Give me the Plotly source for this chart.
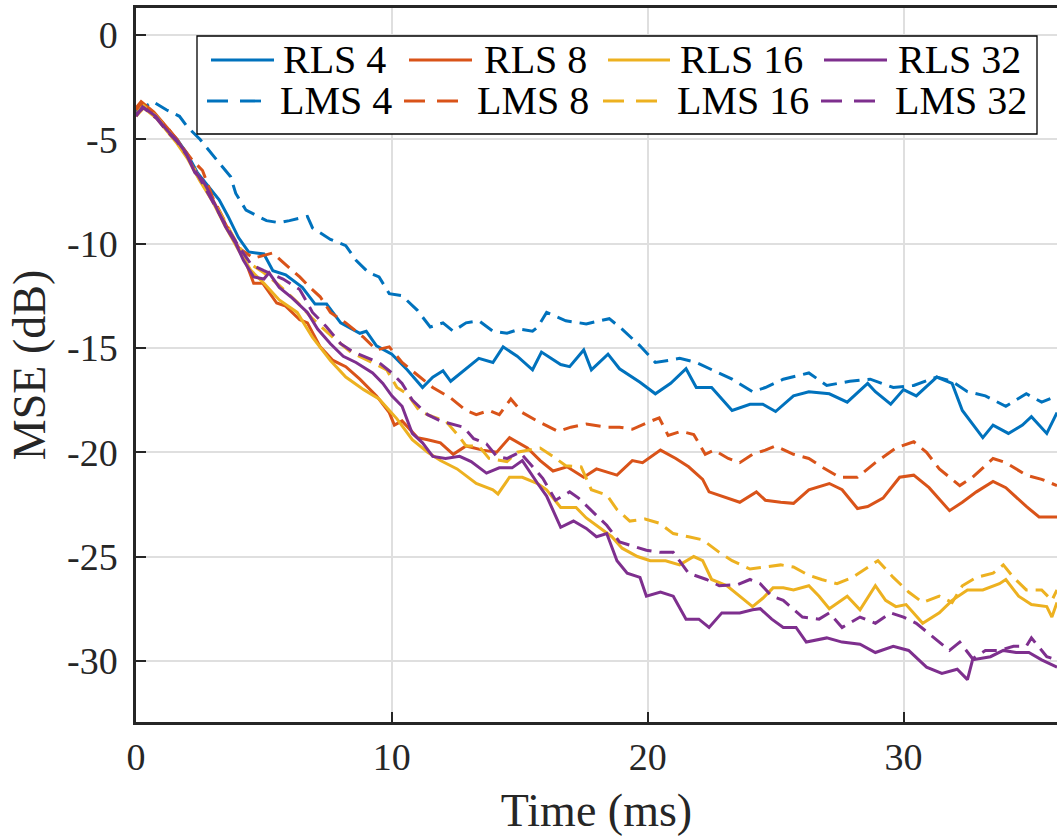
import plotly.graph_objects as go

# ---------------- data ----------------
t_rls4 = [0, 0.3, 0.8, 1.2, 1.6, 2.0, 2.4, 2.8, 3.25, 3.6, 4.0, 4.4, 5.0, 5.35, 5.85, 6.5, 7.0, 7.45, 8.0, 8.75, 9.0, 9.4, 10.0, 10.6, 11.2, 11.6, 12.0, 12.3, 12.8, 13.4, 13.95, 14.35, 14.9, 15.5, 15.85, 16.6, 16.95, 17.5, 17.8, 18.45, 18.9, 19.7, 20.3, 20.9, 21.5, 21.9, 22.5, 23.3, 24.0, 24.5, 25.0, 25.7, 26.3, 27.1, 27.8, 28.6, 28.9, 29.5, 30.0, 30.5, 31.3, 31.9, 32.3, 33.1, 33.5, 34.1, 34.65, 35.0, 35.6, 36.0]
v_rls4 = [-3.8, -3.4, -3.9, -4.5, -5.0, -5.7, -6.6, -7.2, -7.9, -8.7, -9.7, -10.4, -10.5, -11.3, -11.5, -12.1, -12.9, -12.9, -13.8, -14.3, -14.2, -14.9, -15.3, -16.05, -16.9, -16.4, -16.1, -16.6, -16.1, -15.5, -15.7, -14.95, -15.4, -16.05, -15.2, -15.8, -15.9, -15.1, -16.05, -15.3, -16.0, -16.65, -17.2, -16.7, -16.0, -16.9, -16.9, -18.0, -17.7, -17.7, -18.05, -17.3, -17.1, -17.2, -17.6, -16.7, -17.1, -17.7, -17.0, -17.3, -16.4, -16.7, -18.0, -19.3, -18.7, -19.1, -18.7, -18.3, -19.1, -18.1]

t_lms4 = [0, 0.66, 1.2, 1.7, 2.0, 2.5, 3.16, 3.7, 3.9, 4.3, 5.1, 5.6, 6.0, 6.7, 6.9, 7.6, 8.2, 8.6, 9.1, 9.5, 9.9, 10.4, 11.0, 11.5, 12.0, 12.4, 12.9, 13.4, 13.95, 14.5, 15.0, 15.5, 15.7, 16.05, 16.8, 17.6, 18.5, 19.0, 19.7, 20.3, 20.8, 21.25, 21.9, 22.5, 23.3, 24.1, 24.6, 25.3, 26.3, 27.0, 27.9, 28.7, 29.6, 30.4, 31.3, 31.9, 32.5, 33.2, 34.0, 34.8, 35.4, 36.0]
v_lms4 = [-3.7, -3.2, -3.6, -3.9, -4.4, -5.0, -6.0, -6.8, -7.6, -8.4, -8.9, -9.0, -8.9, -8.7, -9.25, -9.8, -10.1, -10.8, -11.4, -11.6, -12.4, -12.5, -13.2, -14.0, -13.8, -14.2, -13.8, -13.7, -14.2, -14.3, -14.1, -14.2, -14.0, -13.3, -13.7, -13.85, -13.6, -14.1, -14.9, -15.7, -15.6, -15.5, -15.7, -16.05, -16.5, -17.1, -16.9, -16.5, -16.2, -16.8, -16.6, -16.5, -16.9, -16.8, -16.4, -16.6, -17.1, -17.3, -17.8, -17.2, -17.6, -17.3]

t_rls8 = [0, 0.2, 0.7, 1.2, 1.6, 1.95, 2.5, 3.0, 3.6, 4.2, 4.6, 4.95, 5.5, 5.85, 6.4, 6.7, 7.2, 7.7, 8.2, 8.75, 9.4, 9.9, 10.1, 10.4, 11.0, 11.4, 11.9, 12.4, 12.9, 13.55, 14.1, 14.6, 15.3, 15.8, 16.3, 16.85, 17.5, 18.0, 18.8, 19.4, 19.8, 20.5, 21.1, 21.6, 22.15, 22.4, 23.1, 23.6, 24.25, 24.6, 25.2, 25.7, 26.3, 27.1, 27.6, 28.2, 28.6, 29.2, 29.85, 30.4, 31.0, 31.8, 32.3, 32.85, 33.5, 34.0, 34.8, 35.3, 36.0]
v_rls8 = [-3.5, -3.2, -3.7, -4.4, -5.0, -5.7, -6.95, -7.9, -9.3, -10.6, -11.9, -11.9, -12.85, -13.0, -13.65, -13.8, -14.95, -15.6, -15.9, -16.5, -17.3, -18.1, -18.7, -18.5, -19.3, -19.4, -19.55, -20.1, -19.7, -19.9, -20.0, -19.3, -19.8, -20.4, -20.9, -20.7, -21.2, -20.8, -21.1, -20.4, -20.5, -19.9, -20.3, -20.7, -21.3, -21.9, -22.2, -22.4, -21.9, -22.3, -22.4, -22.45, -21.8, -21.5, -21.8, -22.7, -22.6, -22.2, -21.2, -21.1, -21.7, -22.8, -22.4, -21.9, -21.4, -21.7, -22.6, -23.1, -23.1]

t_lms8 = [0, 0.2, 0.7, 1.2, 1.7, 2.2, 2.6, 3.0, 3.5, 4.0, 4.6, 5.35, 5.75, 6.4, 6.8, 7.2, 7.6, 8.2, 8.9, 9.4, 9.9, 10.4, 11.0, 11.6, 12.3, 12.9, 13.3, 13.8, 14.2, 14.65, 15.1, 15.75, 16.5, 17.0, 17.6, 18.4, 18.9, 19.4, 19.95, 20.45, 20.8, 21.3, 21.8, 22.0, 22.25, 22.6, 23.15, 23.6, 24.1, 24.6, 25.0, 25.7, 26.3, 26.8, 27.5, 28.2, 28.9, 29.7, 30.4, 30.9, 31.4, 32.2, 32.7, 33.5, 34.0, 34.8, 35.4, 36.0]
v_lms8 = [-3.6, -3.3, -3.8, -4.4, -5.2, -6.0, -6.5, -7.8, -9.0, -10.2, -10.7, -10.45, -10.9, -11.6, -12.1, -12.55, -13.3, -13.8, -14.5, -15.1, -14.95, -15.7, -16.3, -16.9, -17.4, -18.0, -18.2, -18.0, -18.2, -17.45, -18.1, -18.55, -19.0, -18.8, -18.65, -18.8, -18.8, -18.9, -18.6, -18.35, -19.2, -19.0, -19.15, -19.55, -20.1, -19.9, -20.3, -20.5, -20.1, -19.9, -19.7, -20.1, -20.3, -20.7, -21.2, -21.2, -20.5, -19.8, -19.5, -20.0, -20.8, -21.6, -21.2, -20.3, -20.5, -21.1, -21.3, -21.6]

t_rls16 = [0, 0.3, 0.8, 1.2, 1.6, 2.0, 2.5, 3.0, 3.5, 4.0, 4.5, 5.0, 5.6, 6.3, 6.9, 7.6, 8.2, 8.9, 9.5, 10.2, 10.8, 11.4, 11.9, 12.55, 13.3, 13.95, 14.15, 14.6, 15.1, 15.7, 16.05, 16.6, 17.2, 17.6, 18.1, 18.6, 19.0, 19.6, 20.1, 20.7, 21.25, 21.8, 22.15, 22.5, 23.1, 23.6, 24.1, 24.5, 24.9, 25.3, 25.7, 26.3, 26.7, 27.1, 27.8, 28.3, 28.9, 29.3, 29.7, 30.1, 30.75, 31.4, 31.9, 32.5, 33.1, 33.75, 34.0, 34.5, 35.0, 35.6, 35.8, 36.0]
v_rls16 = [-3.9, -3.5, -4.0, -4.6, -5.2, -5.9, -7.0, -8.0, -9.2, -10.3, -11.3, -11.9, -12.7, -13.3, -14.5, -15.6, -16.4, -17.0, -17.45, -18.4, -19.4, -20.0, -20.4, -20.8, -21.5, -21.8, -22.0, -21.2, -21.2, -21.5, -21.8, -22.65, -22.65, -23.15, -23.6, -24.05, -24.6, -25.0, -25.2, -25.2, -25.4, -25.0, -25.2, -26.1, -26.4, -26.9, -27.4, -27.0, -26.5, -26.5, -26.6, -26.4, -26.9, -27.5, -26.9, -27.55, -26.4, -27.1, -27.4, -27.3, -28.2, -27.7, -27.1, -26.6, -26.6, -26.3, -26.1, -26.9, -27.3, -27.4, -27.9, -27.2]

t_lms16 = [0, 0.3, 0.8, 1.2, 1.6, 2.0, 2.5, 3.0, 3.5, 4.0, 4.5, 5.0, 5.6, 6.3, 6.9, 7.7, 8.4, 9.25, 9.8, 10.2, 10.6, 11.1, 11.6, 12.1, 12.6, 12.9, 13.4, 13.8, 14.5, 14.9, 15.8, 16.3, 16.8, 17.4, 17.8, 18.4, 18.8, 19.3, 19.9, 20.45, 21.0, 21.6, 22.15, 22.8, 23.3, 24.0, 24.6, 25.2, 25.7, 26.3, 26.8, 27.4, 28.0, 28.6, 29.0, 29.6, 30.2, 30.75, 31.4, 31.9, 32.3, 32.85, 33.5, 33.9, 34.3, 34.8, 35.4, 35.8, 36.0]
v_lms16 = [-3.8, -3.4, -3.9, -4.5, -5.1, -5.8, -6.9, -7.9, -9.0, -10.1, -11.0, -11.4, -12.0, -12.8, -13.6, -14.5, -15.2, -15.7, -16.05, -16.9, -17.2, -18.05, -18.3, -18.5, -19.2, -19.7, -19.7, -20.3, -20.45, -20.0, -19.8, -20.2, -20.65, -20.7, -21.8, -22.05, -22.75, -23.3, -23.2, -23.4, -23.9, -24.05, -24.2, -24.8, -25.2, -25.6, -25.5, -25.4, -25.5, -25.9, -26.1, -26.3, -26.0, -25.5, -25.2, -26.0, -26.7, -27.2, -26.9, -27.2, -26.4, -26.0, -25.8, -25.4, -26.0, -26.6, -26.6, -27.1, -26.6]

t_rls32 = [0, 0.26, 0.78, 1.2, 1.56, 1.95, 2.3, 2.6, 2.8, 3.1, 3.5, 3.9, 4.2, 4.6, 5.0, 5.2, 5.6, 6.1, 6.7, 7.1, 7.6, 8.1, 8.6, 9.25, 9.65, 10.0, 10.4, 10.8, 11.2, 11.6, 12.1, 12.65, 13.1, 13.7, 14.2, 14.7, 15.1, 15.7, 16.05, 16.6, 17.1, 17.6, 18.0, 18.4, 18.8, 19.2, 19.7, 19.95, 20.5, 21.0, 21.5, 22.0, 22.4, 22.9, 23.6, 24.1, 24.4, 24.85, 25.3, 25.8, 26.2, 27.0, 27.6, 28.3, 28.9, 29.6, 30.2, 30.9, 31.5, 32.1, 32.5, 32.7, 33.4, 33.9, 34.4, 34.9, 35.4, 36.0]
v_rls32 = [-3.9, -3.45, -3.9, -4.55, -5.0, -5.65, -6.6, -6.95, -7.4, -8.2, -9.2, -10.0, -10.8, -11.6, -11.7, -11.4, -12.1, -12.6, -13.3, -14.1, -14.8, -15.4, -15.7, -16.2, -16.7, -17.3, -17.8, -19.1, -19.55, -20.2, -20.3, -20.2, -20.45, -21.0, -20.75, -20.75, -20.4, -21.5, -22.1, -23.6, -23.3, -23.65, -24.05, -23.9, -25.2, -25.8, -26.0, -26.9, -26.7, -26.9, -28.0, -28.0, -28.4, -27.7, -27.7, -27.55, -27.5, -28.0, -28.4, -28.4, -29.1, -28.9, -29.1, -29.2, -29.6, -29.3, -29.5, -30.3, -30.6, -30.4, -30.9, -29.95, -29.8, -29.5, -29.6, -29.6, -29.95, -30.3]

t_lms32 = [0, 0.3, 0.8, 1.2, 1.6, 2.0, 2.5, 3.0, 3.5, 4.0, 4.5, 5.0, 5.75, 6.4, 6.9, 7.45, 8.0, 8.5, 9.1, 9.5, 10.0, 10.4, 10.8, 11.4, 11.9, 12.4, 12.8, 13.2, 13.7, 14.1, 14.5, 15.0, 15.45, 15.9, 16.4, 16.95, 17.3, 17.85, 18.4, 18.9, 19.4, 19.95, 20.5, 21.0, 21.6, 22.3, 22.8, 23.5, 24.0, 24.4, 24.85, 25.3, 26.05, 26.7, 27.1, 27.6, 28.3, 28.9, 29.5, 30.0, 30.5, 31.1, 31.8, 32.2, 32.7, 33.2, 33.75, 34.3, 34.8, 35.0, 35.6, 36.0]
v_lms32 = [-3.8, -3.5, -4.0, -4.6, -5.1, -5.8, -6.9, -8.0, -9.1, -10.1, -11.0, -11.3, -11.7, -12.2, -13.3, -14.0, -14.8, -15.2, -15.5, -15.7, -16.2, -16.7, -17.5, -18.2, -18.5, -18.65, -18.8, -19.35, -19.6, -20.2, -20.3, -20.0, -20.6, -21.25, -22.3, -21.9, -22.2, -22.85, -23.5, -24.3, -24.5, -24.7, -24.8, -24.8, -25.8, -26.1, -26.4, -26.35, -26.1, -26.3, -26.9, -27.1, -27.9, -28.0, -27.7, -28.4, -27.9, -28.2, -27.7, -27.9, -28.2, -28.8, -29.5, -29.1, -29.9, -29.5, -29.5, -29.3, -29.3, -28.9, -29.8, -29.95]

x_ticks = [0, 10, 20, 30]
y_ticks = [0, -5, -10, -15, -20, -25, -30]
y_tick_labels = ["0", "-5", "-10", "-15", "-20", "-25", "-30"]

series = [
    ("RLS 4", t_rls4, v_rls4, "#0072BD", "solid"),
    ("RLS 8", t_rls8, v_rls8, "#D95319", "solid"),
    ("RLS 16", t_rls16, v_rls16, "#EDB120", "solid"),
    ("RLS 32", t_rls32, v_rls32, "#7E2F8E", "solid"),
    ("LMS 4", t_lms4, v_lms4, "#0072BD", "dash"),
    ("LMS 8", t_lms8, v_lms8, "#D95319", "dash"),
    ("LMS 16", t_lms16, v_lms16, "#EDB120", "dash"),
    ("LMS 32", t_lms32, v_lms32, "#7E2F8E", "dash"),
]

# ---------------- figure ----------------
W, H = 1057, 837
L, R, T, B = 136, 0, 8, 837 - 722
FONT = "Liberation Serif"

fig = go.Figure()
draw_order = [4, 0, 5, 1, 6, 2, 7, 3]
for i in draw_order:
    name, t, v, col, dash = series[i]
    fig.add_trace(go.Scatter(
        x=t, y=v, mode="lines", name=name, showlegend=False,
        line=dict(color=col, width=3,
                  dash="solid" if dash == "solid" else "15px,8px"),
    ))

axis_col = "#262626"
fig.update_layout(
    width=W, height=H,
    margin=dict(l=L, r=R, t=T, b=B, autoexpand=False),
    paper_bgcolor="white", plot_bgcolor="white",
    font=dict(family=FONT, color=axis_col, size=38),
    xaxis=dict(
        range=[0, 36], tickvals=x_ticks, ticktext=[str(v) for v in x_ticks],
        showgrid=True, gridcolor="#dfdfdf", gridwidth=2,
        zeroline=False, showline=True, linecolor=axis_col, linewidth=2.5,
        mirror=True, ticks="inside", ticklen=10, tickwidth=2, tickcolor=axis_col,
        tickfont=dict(family=FONT, size=38, color=axis_col),
        ticklabelstandoff=0,
        title=dict(text="Time (ms)", font=dict(family=FONT, size=46, color=axis_col), standoff=17),
    ),
    yaxis=dict(
        range=[-32.93, 1.29], tickvals=y_ticks, ticktext=y_tick_labels,
        showgrid=True, gridcolor="#dfdfdf", gridwidth=2,
        zeroline=False, showline=True, linecolor=axis_col, linewidth=2.5,
        ticks="inside", ticklen=10, tickwidth=2, tickcolor=axis_col,
        tickfont=dict(family=FONT, size=38, color=axis_col),
        ticklabelstandoff=8,
        title=dict(text="MSE (dB)", font=dict(family=FONT, size=46, color=axis_col), standoff=7),
    ),
    showlegend=False,
)

# ---------------- legend (drawn as box + samples + text) ----------------
pw, ph = W - L - R, H - T - B
def px(x):
    return (x - L) / pw
def py(y):
    return (H - B - y) / ph

fig.add_shape(type="rect", xref="paper", yref="paper",
              x0=px(197), x1=px(1037), y0=py(134), y1=py(36),
              line=dict(color="#000000", width=1.3), fillcolor="white", layer="above")

legend_pos = {
    "RLS 4": (211, 274, 281, 60), "RLS 8": (409, 472, 482, 60),
    "RLS 16": (608, 670, 678, 60), "RLS 32": (824, 887, 896, 60),
    "LMS 4": (207, 262, 278, 101), "LMS 8": (404, 460, 475, 101),
    "LMS 16": (603, 658, 675, 101), "LMS 32": (821, 877, 893, 101),
}
for name, t, v, col, dash in series:
    x0, x1, xt, yc = legend_pos[name]
    fig.add_shape(type="line", xref="paper", yref="paper",
                  x0=px(x0), x1=px(x1), y0=py(yc), y1=py(yc),
                  line=dict(color=col, width=2.8,
                            dash="solid" if dash == "solid" else "21px,12px"),
                  layer="above")
    fig.add_annotation(xref="paper", yref="paper", x=px(xt), y=py(yc),
                       xanchor="left", yanchor="middle", showarrow=False,
                       text=name, font=dict(family=FONT, size=40, color="#000000"))

fig.write_html(
    "out.html",
    config={"displayModeBar": False},
    post_script="document.body.style.margin='0';document.body.style.overflow='hidden';",
)
